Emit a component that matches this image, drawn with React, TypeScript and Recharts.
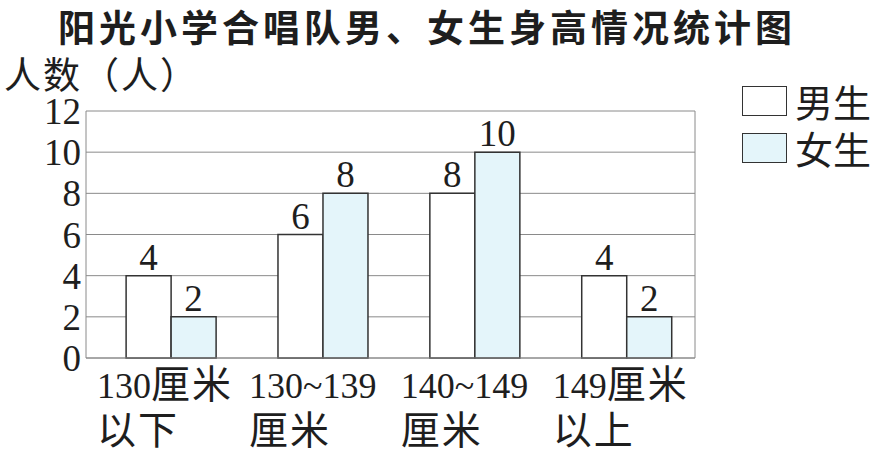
import React from 'react';
import { BarChart, Bar, XAxis, YAxis, CartesianGrid, LabelList } from 'recharts';

const categories = ['130厘米|以下', '130~139|厘米', '140~149|厘米', '149厘米|以上'];
const boys = [4, 6, 8, 4];
const girls = [2, 8, 10, 2];
const yTicks = [0, 2, 4, 6, 8, 10, 12];

const data = categories.map((name, idx) => ({ idx, name, boys: boys[idx], girls: girls[idx] }));

const SERIF = 'Liberation Serif, DejaVu Serif, serif';
const SANS = 'Noto Sans CJK SC, sans-serif';
const GIRL_FILL = '#e4f5fa';

// split a label line into runs so the Chinese characters can be a bit larger
const runs = (line: string) => line.match(/[\u4e00-\u9fff]+|[^\u4e00-\u9fff]+/g) || [];

const CategoryTick = (props: any) => {
  const { x, y, payload } = props;
  const lines = categories[payload.value].split('|');
  const left = x - 74;
  return (
    <g>
      {lines.map((line, i) => (
        <text key={i} x={left} y={y + 40 + i * 46} textAnchor="start" fontFamily={SERIF} fontSize={36} fill="#1e1e1e">
          {runs(line).map((r, j) =>
            /[\u4e00-\u9fff]/.test(r) ? (
              <tspan key={j} fontFamily={SANS} fontSize={39} letterSpacing={2}>
                {r}
              </tspan>
            ) : (
              <tspan key={j}>{r}</tspan>
            )
          )}
        </text>
      ))}
    </g>
  );
};

const legendItems = [
  { label: '男生', fill: '#fff' },
  { label: '女生', fill: GIRL_FILL },
];

export default function App() {
  return (
    <div style={{ position: 'absolute', left: 0, top: 0, width: 879, height: 453, background: '#fff' }}>
      <div
        style={{
          position: 'absolute',
          left: 58,
          top: 4,
          fontFamily: SANS,
          fontWeight: 700,
          fontSize: 37,
          lineHeight: '44px',
          letterSpacing: 4,
          color: '#1e1e1e',
          whiteSpace: 'nowrap',
        }}
      >
        阳光小学合唱队男、女生身高情况统计图
      </div>
      <div
        style={{
          position: 'absolute',
          left: 4,
          top: 52,
          fontFamily: SANS,
          fontSize: 37,
          lineHeight: '42px',
          letterSpacing: 2,
          color: '#1e1e1e',
          whiteSpace: 'nowrap',
        }}
      >
        人数（人）
      </div>
      <div
        style={{
          position: 'absolute',
          left: 742,
          top: 77,
          fontFamily: SANS,
          fontSize: 38,
          color: '#1e1e1e',
          lineHeight: '47px',
        }}
      >
        {legendItems.map((it) => (
          <div key={it.label} style={{ display: 'flex', alignItems: 'center', height: 47 }}>
            <span
              style={{
                display: 'inline-block',
                width: 43,
                height: 28,
                background: it.fill,
                border: '1.5px solid #333',
                marginRight: 8,
              }}
            />
            {it.label}
          </div>
        ))}
      </div>
      <BarChart
        width={879}
        height={453}
        data={data}
        margin={{ top: 111, right: 184, left: 0, bottom: 0 }}
        barGap={0}
        style={{ position: 'absolute', left: 0, top: 0 }}
      >
        <CartesianGrid stroke="#8a8a8a" strokeWidth={1} verticalPoints={[86, 695]} />
        <XAxis
          type="number"
          dataKey="idx"
          domain={[-0.56, 3.45]}
          ticks={[0, 1, 2, 3]}
          axisLine={{ stroke: '#8a8a8a' }}
          tickLine={false}
          tickSize={0}
          tickMargin={0}
          height={95}
          tick={<CategoryTick />}
          interval={0}
        />
        <YAxis
          domain={[0, 12]}
          ticks={yTicks}
          interval={0}
          width={86}
          axisLine={false}
          tickLine={false}
          tickSize={0}
          tickMargin={5}
          tick={{ fontFamily: SERIF, fontSize: 37, fill: '#1e1e1e' }}
        />
        <Bar dataKey="boys" barSize={45} fill="#fff" stroke="#333" strokeWidth={1.5} isAnimationActive={false}>
          <LabelList dataKey="boys" position="top" offset={6} fontFamily={SERIF} fontSize={37} fill="#1e1e1e" />
        </Bar>
        <Bar dataKey="girls" barSize={45} fill={GIRL_FILL} stroke="#333" strokeWidth={1.5} isAnimationActive={false}>
          <LabelList dataKey="girls" position="top" offset={6} fontFamily={SERIF} fontSize={37} fill="#1e1e1e" />
        </Bar>
      </BarChart>
    </div>
  );
}
